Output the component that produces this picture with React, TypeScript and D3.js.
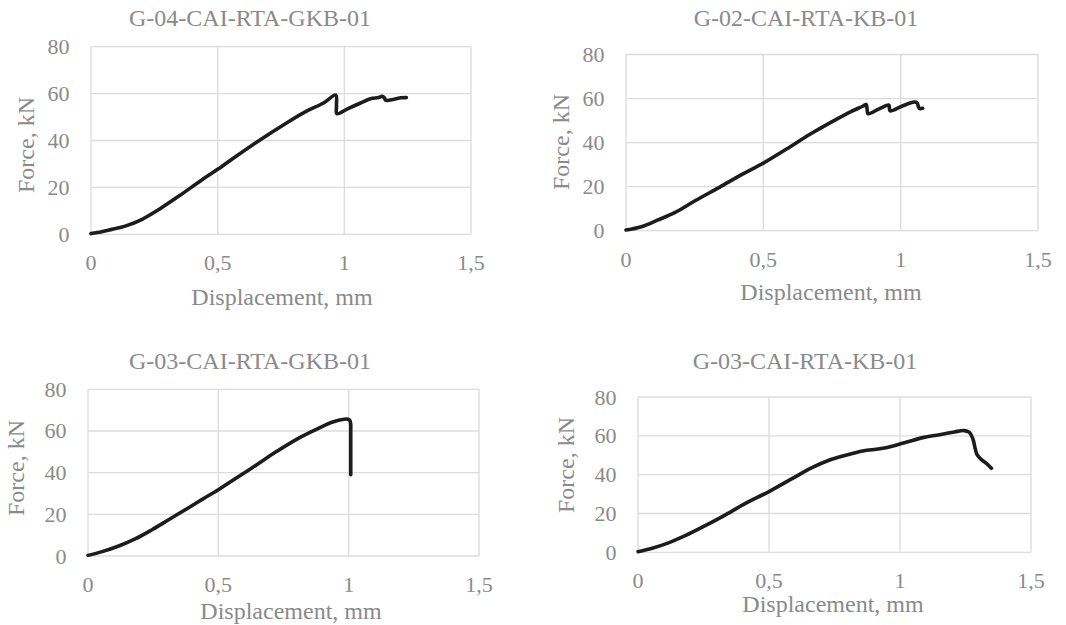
import React from "react";
import * as d3 from "d3";

// ---- Data ----
const xTickValues = [0, 0.5, 1, 1.5];
const xTickLabels = ["0", "0,5", "1", "1,5"];
const yTickValues = [0, 20, 40, 60, 80];
const yTickLabels = ["0", "20", "40", "60", "80"];

const chartTitles = [
  "G-04-CAI-RTA-GKB-01",
  "G-02-CAI-RTA-KB-01",
  "G-03-CAI-RTA-GKB-01",
  "G-03-CAI-RTA-KB-01",
];
const xAxisTitle = "Displacement, mm";
const yAxisTitle = "Force, kN";

// G-04-CAI-RTA-GKB-01
const g04GkbDisp = [0, 0.042, 0.082, 0.135, 0.202, 0.268, 0.347, 0.44, 0.5, 0.573, 0.679, 0.772, 0.851, 0.918, 0.966, 0.969, 0.971, 1.011, 1.064, 1.103, 1.136, 1.149, 1.158, 1.163, 1.196, 1.223, 1.245];
const g04GkbForce = [0.3, 1.1, 2.1, 3.5, 6.4, 10.6, 16.3, 23.4, 27.7, 33.3, 41.1, 47.5, 52.5, 56.0, 59.4, 55.0, 51.4, 53.4, 56.0, 57.8, 58.3, 58.8, 58.2, 57.2, 57.6, 58.2, 58.3];

// G-02-CAI-RTA-KB-01
const g02KbDisp = [0, 0.056, 0.117, 0.179, 0.253, 0.34, 0.426, 0.5, 0.586, 0.673, 0.759, 0.821, 0.862, 0.874, 0.878, 0.881, 0.92, 0.957, 0.959, 0.962, 1.006, 1.049, 1.06, 1.064, 1.068, 1.08];
const g02KbForce = [0.3, 1.8, 4.9, 8.3, 13.7, 19.7, 25.8, 30.7, 37.2, 44.0, 50.1, 54.2, 56.5, 57.3, 55.0, 53.1, 55.2, 57.0, 55.5, 54.4, 56.6, 58.4, 58.0, 56.5, 55.5, 55.6];

// G-03-CAI-RTA-GKB-01
const g03GkbDisp = [0, 0.054, 0.118, 0.183, 0.247, 0.311, 0.389, 0.44, 0.5, 0.569, 0.646, 0.723, 0.8, 0.878, 0.942, 0.994, 1.004, 1.008, 1.008, 1.008, 1.008];
const g03GkbForce = [0.3, 2.1, 4.8, 8.3, 12.7, 17.5, 23.4, 27.3, 31.8, 37.4, 43.7, 50.1, 56.0, 60.9, 64.4, 65.7, 65.2, 63.0, 61.0, 50.0, 39.0];

// G-03-CAI-RTA-KB-01
const g03KbDisp = [0, 0.054, 0.119, 0.184, 0.249, 0.327, 0.405, 0.5, 0.586, 0.664, 0.729, 0.793, 0.858, 0.922, 0.974, 1.026, 1.091, 1.156, 1.208, 1.245, 1.265, 1.278, 1.287, 1.294, 1.312, 1.332, 1.349];
const g03KbForce = [0.3, 2.1, 5.0, 8.8, 13.2, 18.8, 24.8, 31.3, 37.8, 43.6, 47.4, 50.0, 52.2, 53.3, 54.8, 56.8, 59.2, 60.7, 62.0, 62.7, 61.8, 58.5, 53.5, 50.3, 47.6, 45.6, 43.3];

const seriesDisp = [g04GkbDisp, g02KbDisp, g03GkbDisp, g03KbDisp];
const seriesForce = [g04GkbForce, g02KbForce, g03GkbForce, g03KbForce];

// ---- Layout (pixel geometry) ----
type Layout = {
  left: number; right: number; top: number; bottom: number;
  titleX: number; titleY: number;
  xTitleX: number; xTitleY: number;
  yTitleX: number; yTitleY: number;
};
const layouts: Layout[] = [
  { left: 91, right: 471, top: 46.7, bottom: 234.3, titleX: 250, titleY: 26, xTitleX: 282, xTitleY: 305, yTitleX: 34, yTitleY: 145 },
  { left: 626, right: 1038, top: 54.5, bottom: 230.7, titleX: 806, titleY: 26, xTitleX: 831, xTitleY: 300, yTitleX: 569, yTitleY: 142 },
  { left: 88, right: 479, top: 389.3, bottom: 556, titleX: 250, titleY: 368.5, xTitleX: 291, xTitleY: 619, yTitleX: 24, yTitleY: 468 },
  { left: 638, right: 1031, top: 397, bottom: 552.3, titleX: 805, titleY: 368.5, xTitleX: 833, xTitleY: 612, yTitleX: 574, yTitleY: 465 },
];

const TEXT = "#8a8a8a";
const GRID = "#dcdcdc";
const FONT = "'Liberation Serif', 'Times New Roman', serif";

function Panel({ idx }: { idx: number }) {
  const L = layouts[idx];
  const x = d3.scaleLinear().domain([0, 1.5]).range([L.left, L.right]);
  const y = d3.scaleLinear().domain([0, 80]).range([L.bottom, L.top]);
  const pts: [number, number][] = seriesDisp[idx].map((d, i) => [d, seriesForce[idx][i]]);
  const line = d3
    .line<[number, number]>()
    .x((d) => x(d[0]))
    .y((d) => y(d[1]))
    .curve(d3.curveCatmullRom.alpha(0.5));
  return (
    <g>
      {yTickValues.map((v) => (
        <line key={"gy" + v} x1={L.left} x2={L.right} y1={y(v)} y2={y(v)} stroke={GRID} strokeWidth={1.3} />
      ))}
      {xTickValues.map((v) => (
        <line key={"gx" + v} x1={x(v)} x2={x(v)} y1={L.top} y2={L.bottom} stroke={GRID} strokeWidth={1.3} />
      ))}
      {yTickValues.map((v, i) => (
        <text key={"ty" + v} x={L.left - 21.5} y={y(v) + 7.5} textAnchor="end" fontSize={22} fill={TEXT} fontFamily={FONT}>
          {yTickLabels[i]}
        </text>
      ))}
      {xTickValues.map((v, i) => (
        <text key={"tx" + v} x={x(v)} y={L.bottom + 36} textAnchor="middle" fontSize={22} fill={TEXT} fontFamily={FONT}>
          {xTickLabels[i]}
        </text>
      ))}
      <path d={line(pts) || ""} fill="none" stroke="#1c1c1c" strokeWidth={3.6} strokeLinejoin="round" strokeLinecap="round" />
      <text x={L.titleX} y={L.titleY} textAnchor="middle" fontSize={24} fill={TEXT} fontFamily={FONT}>
        {chartTitles[idx]}
      </text>
      <text x={L.xTitleX} y={L.xTitleY} textAnchor="middle" fontSize={24} fill={TEXT} fontFamily={FONT}>
        {xAxisTitle}
      </text>
      <text
        transform={`translate(${L.yTitleX},${L.yTitleY}) rotate(-90)`}
        textAnchor="middle"
        fontSize={24}
        fill={TEXT}
        fontFamily={FONT}
      >
        {yAxisTitle}
      </text>
    </g>
  );
}

export default function App() {
  return (
    <svg width={1066} height={625} style={{ position: "absolute", left: 0, top: 0, background: "#fff" }}>
      <rect x={0} y={0} width={1066} height={625} fill="#fff" />
      {[0, 1, 2, 3].map((i) => (
        <Panel key={i} idx={i} />
      ))}
    </svg>
  );
}
